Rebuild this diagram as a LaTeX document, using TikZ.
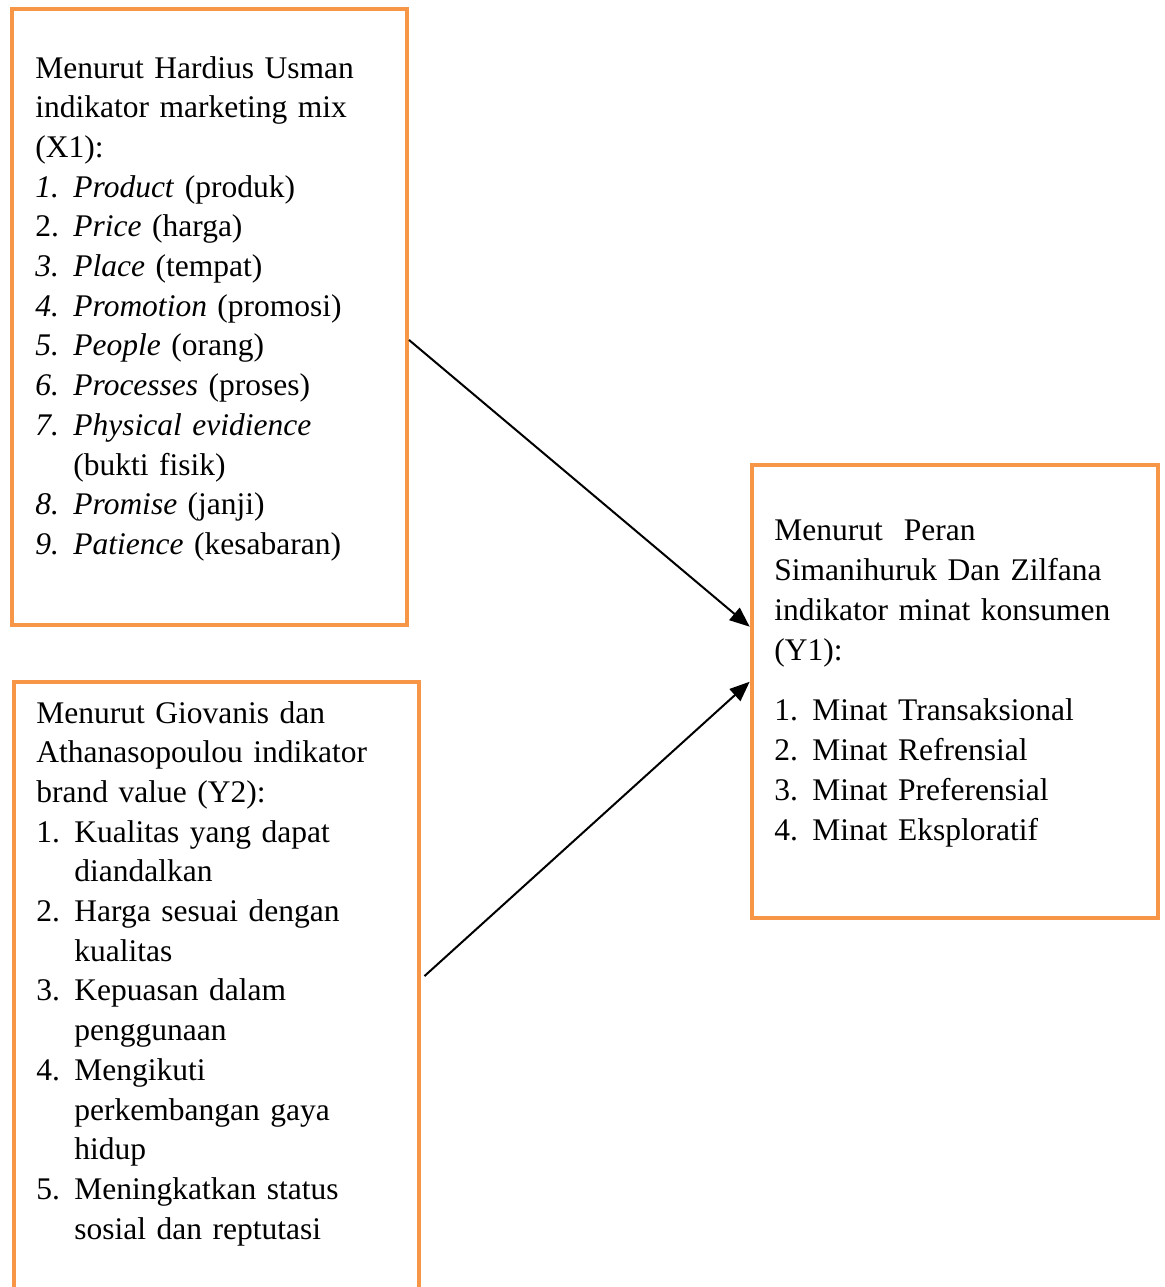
\documentclass[tikz,border=0pt]{standalone}
\usepackage{fontspec}
\setmainfont{Liberation Serif}
\usetikzlibrary{arrows.meta}
\definecolor{boxorange}{HTML}{F79646}
\newcommand{\lnum}[1]{\makebox[19pt][l]{#1}}
\newcommand{\lcont}{\hspace*{19pt}}
\tikzset{
  box/.style={draw=boxorange, line width=2pt, rectangle, inner sep=0pt},
  txt/.style={anchor=base west, inner sep=0pt, text width=200pt, align=left,
    font=\fontsize{15.75pt}{19.85pt}\selectfont},
  conn/.style={-{Triangle[length=10pt,width=8pt]}, line width=1pt, black}
}
\begin{document}
\begin{tikzpicture}[x=0.5pt, y=-0.5pt]
\useasboundingbox (0,0) rectangle (1165,1287);
% boxes
\node[box, minimum width=197.5pt, minimum height=308.25pt] (b1) at (209.5,316.75) {};
\node[box, minimum width=202.5pt, minimum height=309pt] (b2) at (216,990.85) {};
\node[box, minimum width=203.3pt, minimum height=226.7pt] (b3) at (955,691.7) {};
% texts
\node[txt] (t1) at (35,78) {Menurut Hardius Usman\\
indikator marketing mix\\
(X1):\\
\lnum{\textit{1.}}\textit{Product} (produk)\\
\lnum{2.}\textit{Price} (harga)\\
\lnum{\textit{3.}}\textit{Place} (tempat)\\
\lnum{\textit{4.}}\textit{Promotion} (promosi)\\
\lnum{\textit{5.}}\textit{People} (orang)\\
\lnum{\textit{6.}}\textit{Processes} (proses)\\
\lnum{\textit{7.}}\textit{Physical evidience}\\
\lcont(bukti fisik)\\
\lnum{\textit{8.}}\textit{Promise} (janji)\\
\lnum{\textit{9.}}\textit{Patience} (kesabaran)};
\node[txt] (t2) at (36,723) {Menurut Giovanis dan\\
Athanasopoulou indikator\\
brand value (Y2):\\
\lnum{1.}Kualitas yang dapat\\
\lcont diandalkan\\
\lnum{2.}Harga sesuai dengan\\
\lcont kualitas\\
\lnum{3.}Kepuasan dalam\\
\lcont penggunaan\\
\lnum{4.}Mengikuti\\
\lcont perkembangan gaya\\
\lcont hidup\\
\lnum{5.}Meningkatkan status\\
\lcont sosial dan reptutasi};
\node[txt, font=\fontsize{15.75pt}{20pt}\selectfont] (t3) at (774,540) {Menurut\ \ Peran\\
Simanihuruk Dan Zilfana\\
indikator minat konsumen\\
(Y1):\\[10pt]
\lnum{1.}Minat Transaksional\\
\lnum{2.}Minat Refrensial\\
\lnum{3.}Minat Preferensial\\
\lnum{4.}Minat Eksploratif};
% connectors
\draw[conn] ([yshift=-11.6pt]b1.east) -- ([yshift=32.5pt]b3.west);
\draw[conn] ([xshift=2pt,yshift=7.4pt]b2.east) -- ([yshift=5pt]b3.west);
\end{tikzpicture}
\end{document}
